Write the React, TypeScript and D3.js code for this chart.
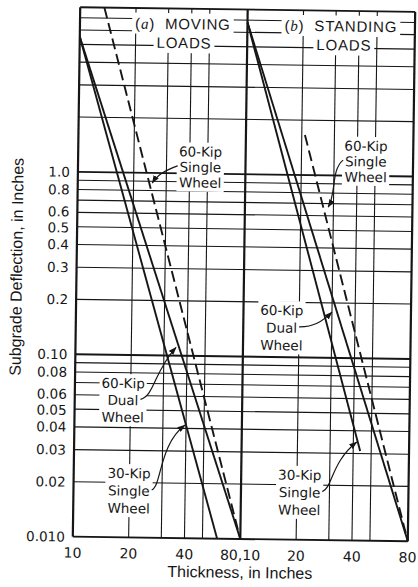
import React, { useEffect, useRef } from "react";
import * as d3 from "d3";

// ---------- data ----------
const thicknessDomain = [10, 80];
const deflectionDomain = [0.01, 8];

// (a) moving loads  [thickness, deflection]
const movingSingle30 = [[10, 5.5], [60, 0.01]];
const movingDual60 = [[10, 5.5], [80, 0.01]];
const movingSingle60 = [[13.5, 8], [80, 0.01]];
// (b) standing loads
const standingSingle30 = [[10, 6.8], [43.6, 0.031]];
const standingDual60 = [[10, 6.8], [80, 0.01]];
const standingSingle60 = [[20.8, 1.66], [80, 0.01]];

const yGridMinor = [0.02, 0.03, 0.04, 0.05, 0.06, 0.07, 0.08, 0.09, 0.2, 0.3, 0.4, 0.5, 0.6, 0.7, 0.8, 0.9, 2, 3, 4, 5, 6, 7];
const yGridMajor = [0.01, 0.1, 1, 8];
const yTickValues = [0.01, 0.02, 0.03, 0.04, 0.05, 0.06, 0.08, 0.1, 0.2, 0.3, 0.4, 0.5, 0.6, 0.8, 1];
const yTickLabels = ["0.010", "0.02", "0.03", "0.04", "0.05", "0.06", "0.08", "0.10", "0.2", "0.3", "0.4", "0.5", "0.6", "0.8", "1.0"];
const xGrid = [20, 30, 40, 50];
const xTicksA = [10, 20, 40];
const xTicksB = [20, 40, 80];
const jointTickLabel = "80,10";

const panelLetters = ["a", "b"];
const panelTitleTop = ["MOVING", "STANDING"];
const panelTitleBottom = ["LOADS", "LOADS"];
const panelTitleX = [[35.9, 36.5], [31.9, 33.2]];
const panelTitleV = [6.6, 5.2];

const annotations = [
  { panel: 0, cx: 45.7, v: 1.32, gap: 15.5, lines: ["60-Kip", "Single", "Wheel"], series: movingSingle60, tv: 0.88, side: "left", nudge: 3, c1: [-10, 4], c2: [6, -10] },
  { panel: 1, cx: 44.5, v: 1.46, gap: 15.5, lines: ["60-Kip", "Single", "Wheel"], series: standingSingle60, tv: 0.67, side: "left", nudge: 5, c1: [-12, 10], c2: [8, -14] },
  { panel: 0, cx: 18.2, v: 0.0701, gap: 17, lines: ["60-Kip", "Dual", "Wheel"], series: movingDual60, tv: 0.111, side: "right", nudge: -3, c1: [14, -4], c2: [-22, 25] },
  { panel: 0, cx: 19.9, v: 0.0225, gap: 17.5, lines: ["30-Kip", "Single", "Wheel"], series: movingSingle30, tv: 0.0417, side: "right", nudge: -1, c1: [10, -4], c2: [-26, 20] },
  { panel: 1, cx: 16.1, v: 0.181, gap: 17.5, lines: ["60-Kip", "Dual", "Wheel"], series: standingDual60, tv: 0.178, side: "right", nudge: -5, c1: [14, 0], c2: [-10, 10] },
  { panel: 1, cx: 20.7, v: 0.0227, gap: 17.5, lines: ["30-Kip", "Single", "Wheel"], series: standingSingle30, tv: 0.0347, side: "right", nudge: -1, c1: [10, -4], c2: [-25, 20] },
];

// ---------- layout ----------
const W = 418, H = 587;
const LEFT = 76.5, MID = 244, RIGHT = 411.5, TOP = 9.5, BOTTOM = 539;
const ROT = 0.8, CX = 244, CY = 274;
const INK = "#161616";
const FONT = "'Liberation Sans', Arial, Helvetica, sans-serif";
const TICK_FONT = "'DejaVu Sans', 'Liberation Sans', sans-serif";
const TICK_SIZE = 13.5;

export default function App() {
  const ref = useRef<SVGSVGElement>(null);

  useEffect(() => {
    const svg = d3.select(ref.current);
    svg.selectAll("*").remove();

    const defs = svg.append("defs");
    defs.append("marker").attr("id", "ah").attr("viewBox", "0 0 8 6")
      .attr("refX", 7.5).attr("refY", 3).attr("markerWidth", 8).attr("markerHeight", 6)
      .attr("markerUnits", "userSpaceOnUse").attr("orient", "auto")
      .append("path").attr("d", "M0,0 L8,3 L0,6 Z").attr("fill", INK);

    const root = svg.append("g").attr("transform", `rotate(${ROT},${CX},${CY})`);
    const y = d3.scaleLog().domain(deflectionDomain).range([BOTTOM, TOP]);
    const xs = [
      d3.scaleLog().domain(thicknessDomain).range([LEFT, MID]),
      d3.scaleLog().domain(thicknessDomain).range([MID, RIGHT]),
    ];

    // grid
    const grid = root.append("g").attr("stroke", INK).attr("fill", "none");
    grid.selectAll("line.hmin").data(yGridMinor).join("line").attr("class", "hmin")
      .attr("x1", LEFT).attr("x2", RIGHT).attr("y1", (d) => y(d)).attr("y2", (d) => y(d))
      .attr("stroke-width", 1.1);
    grid.selectAll("line.hmaj").data(yGridMajor).join("line").attr("class", "hmaj")
      .attr("x1", LEFT).attr("x2", RIGHT).attr("y1", (d) => y(d)).attr("y2", (d) => y(d))
      .attr("stroke-width", 1.9);
    xs.forEach((x, i) => {
      grid.selectAll(`line.v${i}`).data(xGrid).join("line").attr("class", `v${i}`)
        .attr("x1", (d) => x(d)).attr("x2", (d) => x(d)).attr("y1", TOP).attr("y2", BOTTOM)
        .attr("stroke-width", 1.1);
    });
    const borders = [xs[0](thicknessDomain[0]), xs[0](thicknessDomain[1]), xs[1](thicknessDomain[1])];
    grid.selectAll("line.b").data(borders).join("line").attr("class", "b")
      .attr("x1", (d) => d).attr("x2", (d) => d).attr("y1", TOP).attr("y2", BOTTOM)
      .attr("stroke-width", 2.2);

    const boxLayer = root.append("g");
    const curveLayer = root.append("g");
    const textLayer = root.append("g").attr("font-family", FONT).attr("fill", INK);

    const addBox = (node: SVGGraphicsElement, pad: number) => {
      const b = node.getBBox();
      boxLayer.append("rect").attr("x", b.x - pad).attr("y", b.y - pad + 1)
        .attr("width", b.width + 2 * pad).attr("height", b.height + 2 * pad - 2).attr("fill", "#fff");
    };

    // panel titles
    xs.forEach((x, i) => {
      const t1 = textLayer.append("text").attr("x", x(panelTitleX[i][0])).attr("y", y(panelTitleV[0]) + 5.4)
        .attr("text-anchor", "middle").attr("font-size", 15).attr("letter-spacing", 0.8);
      t1.append("tspan").text("(");
      t1.append("tspan").attr("font-family", "'Liberation Serif', serif").attr("font-style", "italic").text(panelLetters[i]);
      t1.append("tspan").text(")\u00a0\u00a0" + panelTitleTop[i]);
      addBox(t1.node() as SVGGraphicsElement, 3);
      const t2 = textLayer.append("text").attr("x", x(panelTitleX[i][1])).attr("y", y(panelTitleV[1]) + 5.4)
        .attr("text-anchor", "middle").attr("font-size", 15).attr("letter-spacing", 0.8)
        .text(panelTitleBottom[i]);
      addBox(t2.node() as SVGGraphicsElement, 3);
    });

    // curves
    const seriesList = [
      { data: movingSingle30, panel: 0, dash: null },
      { data: movingDual60, panel: 0, dash: null },
      { data: movingSingle60, panel: 0, dash: "11,5" },
      { data: standingSingle30, panel: 1, dash: null },
      { data: standingDual60, panel: 1, dash: null },
      { data: standingSingle60, panel: 1, dash: "11,5" },
    ];
    seriesList.forEach((s) => {
      const x = xs[s.panel];
      const gen = d3.line<number[]>().x((d) => x(d[0])).y((d) => y(d[1]));
      curveLayer.append("path").attr("d", gen(s.data as number[][]))
        .attr("fill", "none").attr("stroke", INK).attr("stroke-width", 1.9)
        .attr("stroke-dasharray", s.dash);
    });

    const pointAt = (series: number[][], v: number) => {
      const [p0, p1] = series;
      const t = (Math.log(v) - Math.log(p0[1])) / (Math.log(p1[1]) - Math.log(p0[1]));
      return Math.exp(Math.log(p0[0]) + t * (Math.log(p1[0]) - Math.log(p0[0])));
    };

    // annotations
    annotations.forEach((a) => {
      const x = xs[a.panel];
      const cx = x(a.cx);
      const cy0 = y(a.v);
      const g = textLayer.append("g").attr("font-family", TICK_FONT);
      const nodes: SVGTextElement[] = [];
      a.lines.forEach((ln, k) => {
        const t = g.append("text").attr("x", cx).attr("y", cy0 + k * a.gap + 5)
          .attr("text-anchor", "middle").attr("font-size", 13.5).text(ln);
        nodes.push(t.node() as SVGTextElement);
      });
      addBox(g.node() as SVGGraphicsElement, 2);
      const b1 = nodes[1].getBBox();
      const sx = a.side === "left" ? b1.x - 2 : b1.x + b1.width + 2;
      const sy = cy0 + a.gap - 1;
      const ex = x(pointAt(a.series as number[][], a.tv)) + a.nudge;
      const ey = y(a.tv);
      const p = d3.path();
      p.moveTo(sx, sy);
      p.bezierCurveTo(sx + a.c1[0], sy + a.c1[1], ex + a.c2[0], ey + a.c2[1], ex, ey);
      textLayer.append("path").attr("d", p.toString()).attr("fill", "none")
        .attr("stroke", INK).attr("stroke-width", 1.2).attr("marker-end", "url(#ah)");
    });

    // y tick labels (tight pairs pushed apart slightly so they do not collide)
    const minGap = 16;
    const ty = yTickValues.map((v) => y(v) + 5);
    for (let k = 1; k < ty.length; k++) {
      const d = ty[k - 1] - ty[k];
      if (d < minGap) {
        const push = (minGap - d) / 2;
        ty[k - 1] += push;
        ty[k] -= push;
      }
    }
    textLayer.selectAll("text.yt").data(yTickValues).join("text").attr("class", "yt")
      .attr("x", LEFT - 8).attr("y", (d, i) => ty[i]).attr("text-anchor", "end")
      .attr("font-family", TICK_FONT).attr("font-size", TICK_SIZE).text((d, i) => yTickLabels[i]);

    // x tick labels
    const xl = BOTTOM + 21;
    textLayer.selectAll("text.xa").data(xTicksA).join("text").attr("class", "xa")
      .attr("x", (d) => xs[0](d)).attr("y", xl).attr("text-anchor", "middle")
      .attr("font-family", TICK_FONT).attr("font-size", 14)
      .text((d) => String(d));
    textLayer.selectAll("text.xb").data(xTicksB).join("text").attr("class", "xb")
      .attr("x", (d) => xs[1](d)).attr("y", xl).attr("text-anchor", "middle")
      .attr("font-family", TICK_FONT).attr("font-size", 14)
      .text((d) => String(d));
    textLayer.append("text").attr("x", MID).attr("y", xl).attr("text-anchor", "middle")
      .attr("font-family", TICK_FONT).attr("font-size", 14).text(jointTickLabel);

    // axis titles
    textLayer.append("text").attr("x", MID).attr("y", BOTTOM + 39).attr("text-anchor", "middle")
      .attr("font-size", 16).text("Thickness, in Inches");
    textLayer.append("text").attr("transform", `translate(22,270) rotate(-90)`)
      .attr("text-anchor", "middle").attr("font-size", 16).text("Subgrade Deflection, in Inches");
  }, []);

  return (
    <svg ref={ref} width={W} height={H}
      style={{ position: "absolute", left: 0, top: 0, display: "block", background: "#fff" }} />
  );
}
